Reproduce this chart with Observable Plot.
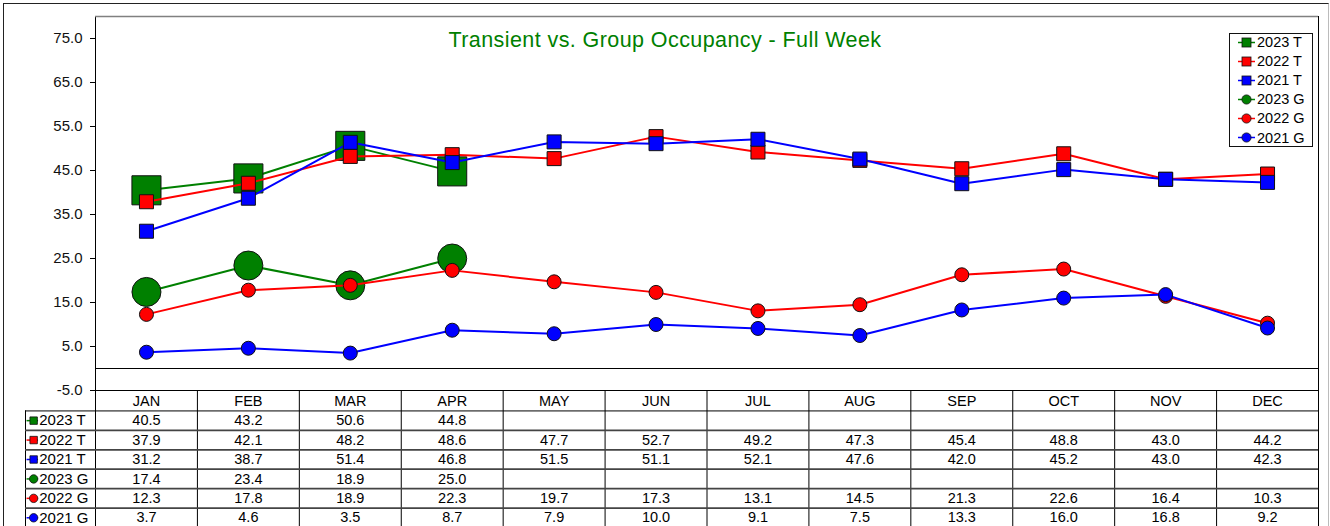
<!DOCTYPE html>
<html><head><meta charset="utf-8">
<script src="https://cdn.jsdelivr.net/npm/d3@7"></script>
<script src="https://cdn.jsdelivr.net/npm/@observablehq/plot@0.6"></script>
<style>
html,body{margin:0;padding:0;background:#fff;overflow:hidden;}
body{width:1330px;height:526px;position:relative;font-family:"Liberation Sans",Arial,sans-serif;}
#outer{position:absolute;left:3px;top:3px;width:1324px;height:560px;border-left:1px solid #222;border-top:1px solid #222;border-right:1px solid #bbb;}
#chart{position:absolute;left:0;top:0;}
#table{position:absolute;left:0;top:390px;}
#title{position:absolute;left:0;width:1330px;top:30px;text-align:center;color:#008000;font-size:21.5px;line-height:21px;letter-spacing:0.42px;white-space:nowrap;}
#legend{position:absolute;left:1229px;top:33px;width:82px;height:112px;border:1px solid #111;background:#fff;}
.entry{display:flex;align-items:center;height:19.1px;font-size:14.5px;color:#000;white-space:nowrap;}
.entry svg{margin-left:8px;margin-right:1px;flex:none;}
</style></head>
<body>
<div id="outer"></div>
<div id="chart"></div>
<div id="table"></div>
<div id="title">Transient vs. Group Occupancy - Full Week</div>
<div id="legend"></div>
<script>
const months = ["JAN","FEB","MAR","APR","MAY","JUN","JUL","AUG","SEP","OCT","NOV","DEC"];
const seriesNames = ["2023 T","2022 T","2021 T","2023 G","2022 G","2021 G"];
const seriesColors = ["#008000","#FF0000","#0000FF","#008000","#FF0000","#0000FF"];
const seriesSymbols = ["square","square","square","circle","circle","circle"];
const t2023 = [40.5, 43.2, 50.6, 44.8, null, null, null, null, null, null, null, null];
const t2022 = [37.9, 42.1, 48.2, 48.6, 47.7, 52.7, 49.2, 47.3, 45.4, 48.8, 43.0, 44.2];
const t2021 = [31.2, 38.7, 51.4, 46.8, 51.5, 51.1, 52.1, 47.6, 42.0, 45.2, 43.0, 42.3];
const g2023 = [17.4, 23.4, 18.9, 25.0, null, null, null, null, null, null, null, null];
const g2022 = [12.3, 17.8, 18.9, 22.3, 19.7, 17.3, 13.1, 14.5, 21.3, 22.6, 16.4, 10.3];
const g2021 = [3.7, 4.6, 3.5, 8.7, 7.9, 10.0, 9.1, 7.5, 13.3, 16.0, 16.8, 9.2];
const yTicks = [-5, 5, 15, 25, 35, 45, 55, 65, 75];

const seriesValues = [t2023, t2022, t2021, g2023, g2022, g2021];
const seriesRadius = [16.4, 7.9, 7.9, 14.5, 7, 7];
const font = '"Liberation Sans", Arial, sans-serif';

const rows = [];
seriesNames.forEach((name, si) => months.forEach((m, mi) => {
  rows.push({series: name, si, month: m, mi, value: seriesValues[si][mi]});
}));

// ---- main chart ----
const marks = [
  Plot.frame({stroke: "black"}),
  Plot.ruleY([80], {stroke: "#808080", strokeWidth: 1.5}),
  Plot.ruleY([0], {stroke: "black"}),
  Plot.axisY({ticks: yTicks, tickFormat: d => d.toFixed(1), tickSize: 5, tickPadding: 8, fontSize: 15, label: null, stroke: "black", fill: "#111"})
];
seriesNames.forEach((name, si) => {
  const data = rows.filter(d => d.si === si && d.value != null);
  marks.push(Plot.line(data, {x: "month", y: "value", stroke: seriesColors[si], strokeWidth: 2}));
  marks.push(Plot.dot(data, {x: "month", y: "value", symbol: seriesSymbols[si], r: seriesRadius[si], fill: seriesColors[si], stroke: "#111", strokeWidth: 1}));
});
const chart = Plot.plot({
  width: 1330, height: 391,
  marginLeft: 95, marginRight: 12, marginTop: 16, marginBottom: 1,
  x: {type: "band", domain: months, padding: 0, round: false, axis: null},
  y: {domain: [-5, 80]},
  style: {fontFamily: font, fontSize: "15px", color: "black", background: "transparent", overflow: "visible"},
  marks
});
document.getElementById("chart").append(chart);

// ---- data table ----
const lw = 70 / (1223 / 12); // label column width in column units
const tableMarks = [
  Plot.ruleX(d3.range(0, 13), {y1: 0, y2: 7, stroke: "black"}),
  Plot.ruleX([-lw], {y1: 1, y2: 7, stroke: "black"}),
  Plot.ruleY([1], {x1: -lw, x2: 12, stroke: "black"}),
  Plot.ruleY([2, 3, 4, 5, 6], {x1: -lw, x2: 12, stroke: "#444", strokeWidth: 1.8}),
  Plot.text(months, {x: (d, i) => i + 0.5, y: 0.5, text: d => d, fontSize: 14.5, fill: "black"}),
  Plot.text(rows.filter(d => d.value != null), {x: d => d.mi + 0.5, y: d => d.si + 1.5, text: d => d.value.toFixed(1), fontSize: 14.5, fill: "black"}),
  Plot.ruleY(seriesNames, {y: (d, i) => i + 1.5, x1: -lw + 0.015, x2: -lw + 0.128, stroke: (d, i) => seriesColors[i], strokeWidth: 1.5}),
  Plot.dot(seriesNames, {x: -lw + 0.08, y: (d, i) => i + 1.5, symbol: (d, i) => seriesSymbols[i], r: 4.2, fill: (d, i) => seriesColors[i], stroke: "#111", strokeWidth: 0.8}),
  Plot.text(seriesNames, {x: -lw + 0.135, y: (d, i) => i + 1.5, text: d => d, textAnchor: "start", fontSize: 15, fill: "black"})
];
const table = Plot.plot({
  width: 1330, height: 137,
  marginLeft: 95, marginRight: 12, marginTop: 1, marginBottom: 0,
  x: {domain: [0, 12], axis: null},
  y: {domain: [0, 7], reverse: true, axis: null},
  symbol: {type: "identity"},
  color: {type: "identity"},
  style: {fontFamily: font, fontSize: "14.5px", color: "black", background: "transparent", overflow: "visible"},
  marks: tableMarks
});
document.getElementById("table").append(table);

// ---- legend ----
const legend = document.getElementById("legend");
seriesNames.forEach((name, i) => {
  const div = document.createElement("div");
  div.className = "entry";
  if (i === 0) div.style.marginTop = "-1.5px";
  const shape = seriesSymbols[i] === "square"
    ? `<rect x="4" y="2" width="9" height="9" fill="${seriesColors[i]}" stroke="#111" stroke-width="0.8"/>`
    : `<circle cx="8.5" cy="6.5" r="4.6" fill="${seriesColors[i]}" stroke="#111" stroke-width="0.8"/>`;
  div.innerHTML = `<svg width="18" height="13"><line x1="0" y1="6.5" x2="17" y2="6.5" stroke="${seriesColors[i]}" stroke-width="1.5"/>${shape}</svg><span>${name}</span>`;
  legend.append(div);
});
</script>
</body></html>
